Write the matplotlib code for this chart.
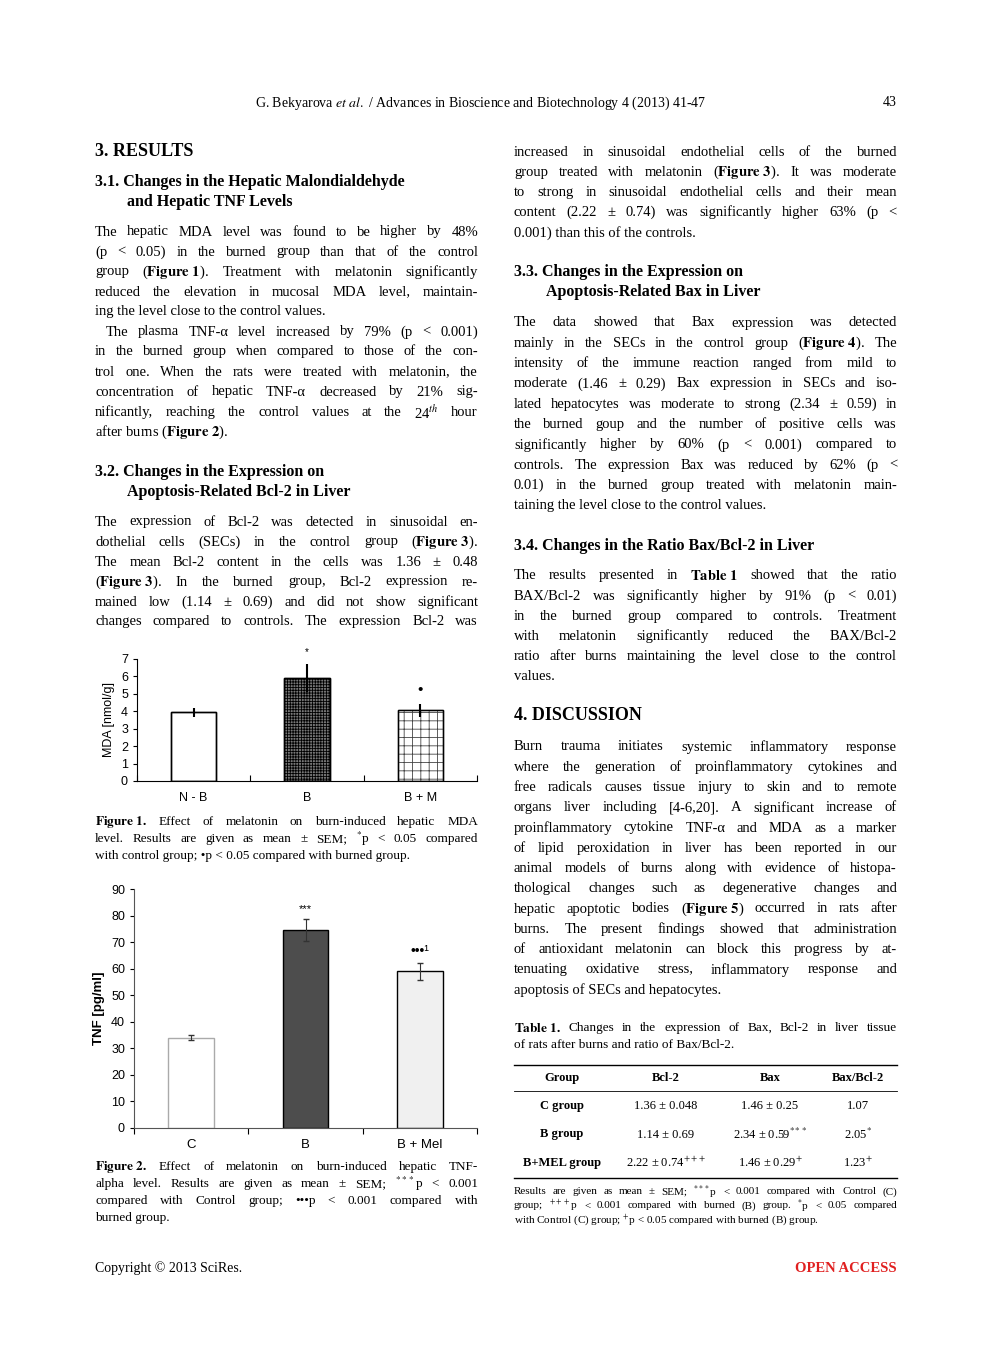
import matplotlib
matplotlib.use("Agg")
import matplotlib.pyplot as plt
import numpy as np

plt.rcParams['font.family'] = ['Liberation Serif', 'DejaVu Serif']
plt.rcParams['mathtext.fontset'] = 'stix'
plt.rcParams['hatch.linewidth'] = 0.6

# Figure 1 data
f1_groups = ["N - B", "B", "B + M"]
f1_mean = [3.95, 5.9, 4.05]
f1_sem = [0.25, 0.8, 0.35]
f1_marks = ["", "*", "•"]
# Figure 2 data
f2_groups = ["C", "B", "B + Mel"]
f2_mean = [34.0, 74.5, 59.0]
f2_sem = [1.0, 4.2, 3.2]
f2_marks = ["", "***", "•••¹"]
# Table data
tbl_header = ["Group", "Bcl-2", "Bax", "Bax/Bcl-2"]
tbl_rows = [["C group", "1.36 ± 0.048", "1.46 ± 0.25", "1.07"],
            ["B group", "1.14 ± 0.69", r"2.34 ± 0.59$^{***}$", r"2.05$^{*}$"],
            ["B+MEL group", r"2.22 ± 0.74$^{+++}$", r"1.46 ± 0.29$^{+}$", r"1.23$^{+}$"]]

W, H = 992, 1347
fig = plt.figure(figsize=(W/100, H/100), dpi=100)
renderer = fig.canvas.get_renderer()

def put(x, y, s, size=10.5, **kw):
    return fig.text(x/W, 1 - y/H, s, fontsize=size, va='center', **kw)

def tokens(s):
    out, cur, inmath = [], "", False
    for ch in s:
        if ch == '$':
            inmath = not inmath
        if ch == ' ' and not inmath:
            if cur:
                out.append(cur)
            cur = ""
        else:
            cur += ch
    if cur:
        out.append(cur)
    return out

def just(x0, x1, y, s, size=10.5, **kw):
    lead = len(s) - len(s.lstrip(' '))
    words = tokens(s)
    if len(words) < 2:
        put(x0, y, s, size, **kw)
        return
    ts = [put(0, y, w, size, **kw) for w in words]
    widths = [t.get_window_extent(renderer).width for t in ts]
    start = x0 + lead * size * 0.35
    gap = (x1 - start - sum(widths)) / (len(words) - 1)
    xx = start
    for t, w in zip(ts, widths):
        t.set_x(xx / W)
        xx += w + gap

def para(x0, x1, y0, dy, lines, size=10.5, last_plain=True, **kw):
    for i, s in enumerate(lines):
        if last_plain and i == len(lines) - 1:
            put(x0 + (len(s) - len(s.lstrip(' '))) * size * 0.35, y0 + i*dy, s.lstrip(' '), size, **kw)
        else:
            just(x0, x1, y0 + i*dy, s, size, **kw)

put(255, 103, r"G. Bekyarova $\it{et\ al.}$ / Advances in Bioscience and Biotechnology 4 (2013) 41-47", 10)
put(897, 103, "43", 10, ha='right')

put(95, 152, "3. RESULTS", 13, weight='bold')
put(95, 182, "3.1. Changes in the Hepatic Malondialdehyde", 11.5, weight='bold')
put(127, 202, "and Hepatic TNF Levels", 11.5, weight='bold')
L1a = ["The hepatic MDA level was found to be higher by 48%",
       "(p < 0.05) in the burned group than that of the control",
       r"group ($\bf{Figure\ 1}$). Treatment with melatonin significantly",
       "reduced the elevation in mucosal MDA level, maintain-",
       "ing the level close to the control values."]
L1b = ["   The plasma TNF-α level increased by 79% (p < 0.001)",
       "in the burned group when compared to those of the con-",
       "trol one. When the rats were treated with melatonin, the",
       "concentration of hepatic TNF-α decreased by 21% sig-",
       r"nificantly, reaching the control values at the 24$^{th}$ hour",
       r"after burns ($\bf{Figure\ 2}$)."]
para(95, 478, 232, 20.0, L1a)
para(95, 478, 332, 20.0, L1b)
put(95, 472, "3.2. Changes in the Expression on", 11.5, weight='bold')
put(127, 492, "Apoptosis-Related Bcl-2 in Liver", 11.5, weight='bold')
L2 = ["The expression of Bcl-2 was detected in sinusoidal en-",
      r"dothelial cells (SECs) in the control group ($\bf{Figure\ 3}$).",
      "The mean Bcl-2 content in the cells was 1.36 ± 0.48",
      r"($\bf{Figure\ 3}$). In the burned group, Bcl-2 expression re-",
      "mained low (1.14 ± 0.69) and did not show significant",
      "changes compared to controls. The expression Bcl-2 was"]
para(95, 478, 522, 20.0, L2, last_plain=False)

C1 = [r"$\bf{Figure\ 1.}$ Effect of melatonin on burn-induced hepatic MDA",
      r"level. Results are given as mean ± SEM; $^{*}$p < 0.05 compared",
      "with control group; •p < 0.05 compared with burned group."]
para(95, 478, 822, 17, C1, 9.5)
C2 = [r"$\bf{Figure\ 2.}$ Effect of melatonin on burn-induced hepatic TNF-",
      r"alpha level. Results are given as mean ± SEM; $^{***}$p < 0.001",
      "compared with Control group; •••p < 0.001 compared with",
      "burned group."]
para(95, 478, 1167, 17, C2, 9.5)

R1 = [r"increased in sinusoidal endothelial cells of the burned",
      r"group treated with melatonin ($\bf{Figure\ 3}$). It was moderate",
      "to strong in sinusoidal endothelial cells and their mean",
      "content (2.22 ± 0.74) was significantly higher 63% (p <",
      "0.001) than this of the controls."]
para(514, 897, 152, 20.2, R1)
put(514, 272, "3.3. Changes in the Expression on", 11.5, weight='bold')
put(546, 292, "Apoptosis-Related Bax in Liver", 11.5, weight='bold')
R2 = ["The data showed that Bax expression was detected",
      r"mainly in the SECs in the control group ($\bf{Figure\ 4}$). The",
      "intensity of the immune reaction ranged from mild to",
      "moderate (1.46 ± 0.29) Bax expression in SECs and iso-",
      "lated hepatocytes was moderate to strong (2.34 ± 0.59) in",
      "the burned goup and the number of positive cells was",
      "significantly higher by 60% (p < 0.001) compared to",
      "controls. The expression Bax was reduced by 62% (p <",
      "0.01) in the burned group treated with melatonin main-",
      "taining the level close to the control values."]
para(514, 897, 323, 20.3, R2)
put(514, 546, "3.4. Changes in the Ratio Bax/Bcl-2 in Liver", 11.5, weight='bold')
R3 = [r"The results presented in $\bf{Table\ 1}$ showed that the ratio",
      "BAX/Bcl-2 was significantly higher by 91% (p < 0.01)",
      "in the burned group compared to controls. Treatment",
      "with melatonin significantly reduced the BAX/Bcl-2",
      "ratio after burns maintaining the level close to the control",
      "values."]
para(514, 897, 576, 20.2, R3)
put(514, 716, "4. DISCUSSION", 13, weight='bold')
R4 = ["Burn trauma initiates systemic inflammatory response",
      "where the generation of proinflammatory cytokines and",
      "free radicals causes tissue injury to skin and to remote",
      "organs liver including [4-6,20]. A significant increase of",
      "proinflammatory cytokine TNF-α and MDA as a marker",
      "of lipid peroxidation in liver has been reported in our",
      "animal models of burns along with evidence of histopa-",
      "thological changes such as degenerative changes and",
      r"hepatic apoptotic bodies ($\bf{Figure\ 5}$) occurred in rats after",
      "burns. The present findings showed that administration",
      "of antioxidant melatonin can block this progress by at-",
      "tenuating oxidative stress, inflammatory response and",
      "apoptosis of SECs and hepatocytes."]
para(514, 897, 747, 20.25, R4)

para(514, 897, 1028, 17, [r"$\bf{Table\ 1.}$ Changes in the expression of Bax, Bcl-2 in liver tissue",
                          "of rats after burns and ratio of Bax/Bcl-2."], 9.5)
for yy, lw in [(1065, 1.0), (1091, 0.6), (1178, 1.0)]:
    fig.add_artist(plt.Line2D([514/W, 897/W], [1-yy/H]*2, color='black', lw=lw))
colx = [562, 666, 770, 858]
for j, h in enumerate(tbl_header):
    put(colx[j], 1078, h, 9, ha='center', weight='bold')
for i, row in enumerate(tbl_rows):
    for j, c in enumerate(row):
        put(colx[j], 1106 + i*28.5, c, 9, ha='center', weight='bold' if j == 0 else 'normal')
F = [r"Results are given as mean ± SEM; $^{***}$p < 0.001 compared with Control (C)",
     r"group; $^{+++}$p < 0.001 compared with burned (B) group. $^{*}$p < 0.05 compared",
     r"with Control (C) group; $^{+}$p < 0.05 compared with burned (B) group."]
para(514, 897, 1192, 14, F, 8)
put(95, 1268, "Copyright © 2013 SciRes.", 10)
put(897, 1268, "OPEN ACCESS", 10.5, ha='right', weight='bold', color='#e02020')

sans = ['Liberation Sans', 'DejaVu Sans']

# Figure 1 chart
ax1 = fig.add_axes([137/W, 1-781/H, 340/W, 122/H])
x = np.arange(3)
styles1 = [dict(facecolor='white', edgecolor='black', hatch=None),
           dict(facecolor='#777777', edgecolor='black', hatch='++++++'),
           dict(facecolor='white', edgecolor='#444444', hatch='++')]
for i in range(3):
    ax1.bar(x[i], f1_mean[i], 0.4, linewidth=1.0, **styles1[i])
    ax1.bar(x[i], f1_mean[i], 0.4, facecolor='none', edgecolor='black', linewidth=1.0)
    ax1.errorbar(x[i], f1_mean[i], yerr=[[f1_sem[i]], [f1_sem[i]]], color='black', lw=1.5, capsize=0)
    if f1_marks[i]:
        ax1.text(x[i], f1_mean[i] + f1_sem[i] + 0.4, f1_marks[i], ha='center', va='bottom',
                 fontsize=7 if f1_marks[i] == '*' else 11, family=sans)
ax1.set_xlim(-0.5, 2.5)
ax1.set_ylim(0, 7)
ax1.set_yticks(range(8))
ax1.set_xticks([-0.5, 0.5, 1.5, 2.5], minor=False)
ax1.set_xticklabels([])
ax1.set_xticks(x, minor=True)
ax1.set_xticklabels(f1_groups, minor=True, family=sans, fontsize=9)
ax1.tick_params(axis='x', which='minor', length=0, pad=8)
ax1.tick_params(axis='x', which='major', length=4, direction='in')
ax1.tick_params(axis='y', direction='out', length=3, labelsize=9)
for t in ax1.get_yticklabels():
    t.set_family(sans)
ax1.set_ylabel("MDA [nmol/g]", family=sans, fontsize=9)
ax1.spines[['top', 'right']].set_visible(False)

# Figure 2 chart
ax2 = fig.add_axes([134/W, 1-1128/H, 343/W, 239/H])
styles2 = [dict(facecolor='white', edgecolor='#aaaaaa', hatch=None),
           dict(facecolor='#4d4d4d', edgecolor='black', hatch=None),
           dict(facecolor='#f0f0f0', edgecolor='black', hatch=None)]
for i in range(3):
    ax2.bar(x[i], f2_mean[i], 0.4, linewidth=1.0, **styles2[i])
    ax2.errorbar(x[i], f2_mean[i], yerr=[[f2_sem[i]], [f2_sem[i]]], color='#333333', lw=0.8, capsize=2)
    if f2_marks[i]:
        ax2.text(x[i], f2_mean[i] + f2_sem[i] + 2, f2_marks[i], ha='center', va='bottom',
                 fontsize=8 if f2_marks[i] == '***' else 10, family=sans)
ax2.set_xlim(-0.5, 2.5)
ax2.set_ylim(0, 90)
ax2.set_yticks(range(0, 91, 10))
ax2.set_xticks([-0.5, 0.5, 1.5, 2.5])
ax2.set_xticklabels([])
ax2.set_xticks(x, minor=True)
ax2.set_xticklabels(f2_groups, minor=True, family=sans, fontsize=9.5)
ax2.tick_params(axis='x', which='minor', length=0, pad=8)
ax2.tick_params(axis='x', which='major', length=4, direction='out')
ax2.tick_params(axis='y', direction='out', length=3, labelsize=9)
for t in ax2.get_yticklabels():
    t.set_family(sans)
ax2.set_ylabel("TNF [pg/ml]", family=sans, fontsize=9.5, weight='bold')
ax2.spines[['top', 'right']].set_visible(False)
for sp in ['left', 'bottom']:
    ax2.spines[sp].set_color('#555555')

fig.savefig("out.png", dpi=100)
